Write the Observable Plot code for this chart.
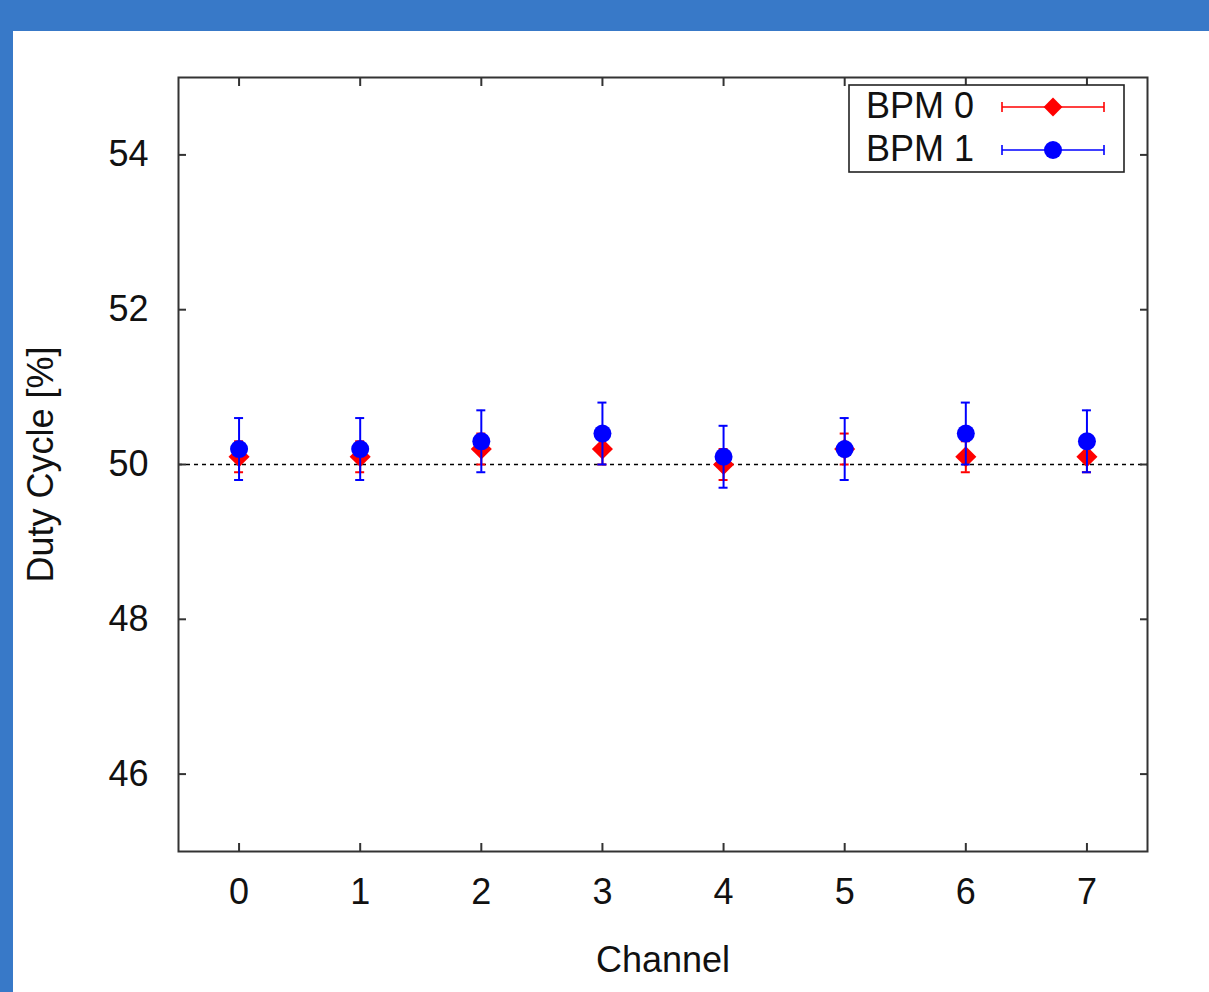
<!DOCTYPE html>
<html>
<head>
<meta charset="utf-8">
<script src="https://cdn.jsdelivr.net/npm/d3@7"></script>
<script src="https://cdn.jsdelivr.net/npm/@observablehq/plot@0.6"></script>
<style>
  html, body { margin: 0; padding: 0; }
  body { width: 1209px; height: 992px; background: #3879c8; position: relative; overflow: hidden; font-family: "Liberation Sans", Arial, sans-serif; }
  #panel { position: absolute; left: 13px; top: 31px; width: 1196px; height: 961px; background: #fff; }
  #chart { position: absolute; left: 0; top: 0; }
  #legend { position: absolute; left: 0; top: 0; }
</style>
</head>
<body>
<div id="panel">
  <div id="chart"></div>
  <svg id="legend" width="1196" height="961"></svg>
</div>
<script>
// ---- data ----
const channels = [0, 1, 2, 3, 4, 5, 6, 7];
const bpm0 = [50.1, 50.1, 50.2, 50.2, 50.0, 50.2, 50.1, 50.1];
const bpm0Err = [0.2, 0.2, 0.2, 0.2, 0.2, 0.2, 0.2, 0.2];
const bpm1 = [50.2, 50.2, 50.3, 50.4, 50.1, 50.2, 50.4, 50.3];
const bpm1Err = [0.4, 0.4, 0.4, 0.4, 0.4, 0.4, 0.4, 0.4];
const yTicks = [46, 48, 50, 52, 54];
const seriesNames = ["BPM 0", "BPM 1"];
const seriesColors = ["#ff0000", "#0000ff"];

const rows0 = channels.map((c, i) => ({ch: c, v: bpm0[i], lo: bpm0[i] - bpm0Err[i], hi: bpm0[i] + bpm0Err[i]}));
const rows1 = channels.map((c, i) => ({ch: c, v: bpm1[i], lo: bpm1[i] - bpm1Err[i], hi: bpm1[i] + bpm1Err[i]}));

function errMarks(rows, color, symbol, r) {
  return [
    Plot.ruleX(rows, {x: "ch", y1: "lo", y2: "hi", stroke: color, strokeWidth: 2}),
    Plot.ruleY(rows, {y: "lo", x1: "ch", x2: "ch", insetLeft: -4.5, insetRight: -4.5, stroke: color, strokeWidth: 2}),
    Plot.ruleY(rows, {y: "hi", x1: "ch", x2: "ch", insetLeft: -4.5, insetRight: -4.5, stroke: color, strokeWidth: 2}),
    Plot.dot(rows, {x: "ch", y: "v", symbol, r, fill: color, stroke: "none"})
  ];
}

const axisColor = "#333";
const chart = Plot.plot({
  width: 1196,
  height: 961,
  marginLeft: 165,
  marginTop: 46,
  marginRight: 62,
  marginBottom: 141,
  style: {fontFamily: "'Liberation Sans', Arial, sans-serif", fontSize: "36px", color: "#111", background: "transparent"},
  x: {domain: [-0.5, 7.5]},
  y: {domain: [45, 55]},
  marks: [
    Plot.ruleY([50], {stroke: "#000", strokeWidth: 1.6, strokeDasharray: "4,4"}),
    ...errMarks(rows0, seriesColors[0], "diamond2", 9.5),
    ...errMarks(rows1, seriesColors[1], "circle", 9),
    Plot.axisY({anchor: "left", ticks: yTicks, tickSize: 0, tickPadding: 30, tickFormat: d => String(d),
      label: "Duty Cycle [%]", labelArrow: "none", labelAnchor: "center", labelOffset: 151}),
    Plot.axisY({anchor: "left", ticks: yTicks, tickSize: 8, dx: 8, text: null, label: null, stroke: axisColor, strokeWidth: 2}),
    Plot.axisY({anchor: "right", ticks: yTicks, tickSize: 8, dx: -8, text: null, label: null, stroke: axisColor, strokeWidth: 2}),
    Plot.axisX({anchor: "bottom", ticks: channels, tickSize: 0, tickPadding: 27, tickFormat: d => String(d),
      label: "Channel", labelArrow: "none", labelAnchor: "center", labelOffset: 120}),
    Plot.axisX({anchor: "bottom", ticks: channels, tickSize: 8, dy: -8, text: null, label: null, stroke: axisColor, strokeWidth: 2}),
    Plot.axisX({anchor: "top", ticks: channels, tickSize: 8, dy: 8, text: null, label: null, stroke: axisColor, strokeWidth: 2}),
    Plot.frame({stroke: axisColor, strokeWidth: 2})
  ]
});
document.getElementById("chart").appendChild(chart);

// ---- legend (inside the plot frame, top right) ----
const lg = d3.select("#legend");
const box = {x: 836, y: 54, w: 275, h: 87};
lg.append("rect").attr("x", box.x).attr("y", box.y).attr("width", box.w).attr("height", box.h)
  .attr("fill", "#fff").attr("stroke", "#222").attr("stroke-width", 1.6);
const rowY = [76, 119];
const syms = [d3.symbolDiamond2, d3.symbolCircle];
const symSize = [Math.PI * 8.5 * 8.5, Math.PI * 9 * 9];
seriesNames.forEach((name, i) => {
  lg.append("text").attr("x", 853).attr("y", rowY[i] + 11).attr("font-size", 36)
    .attr("font-family", "'Liberation Sans', Arial, sans-serif").attr("fill", "#111").text(name);
  const c = seriesColors[i];
  lg.append("line").attr("x1", 989).attr("x2", 1091).attr("y1", rowY[i]).attr("y2", rowY[i]).attr("stroke", c).attr("stroke-width", 1.6);
  lg.append("line").attr("x1", 989).attr("x2", 989).attr("y1", rowY[i] - 5).attr("y2", rowY[i] + 5).attr("stroke", c).attr("stroke-width", 1.6);
  lg.append("line").attr("x1", 1091).attr("x2", 1091).attr("y1", rowY[i] - 5).attr("y2", rowY[i] + 5).attr("stroke", c).attr("stroke-width", 1.6);
  lg.append("path").attr("transform", `translate(1040,${rowY[i]})`).attr("d", d3.symbol(syms[i], symSize[i])()).attr("fill", c);
});
</script>
</body>
</html>
